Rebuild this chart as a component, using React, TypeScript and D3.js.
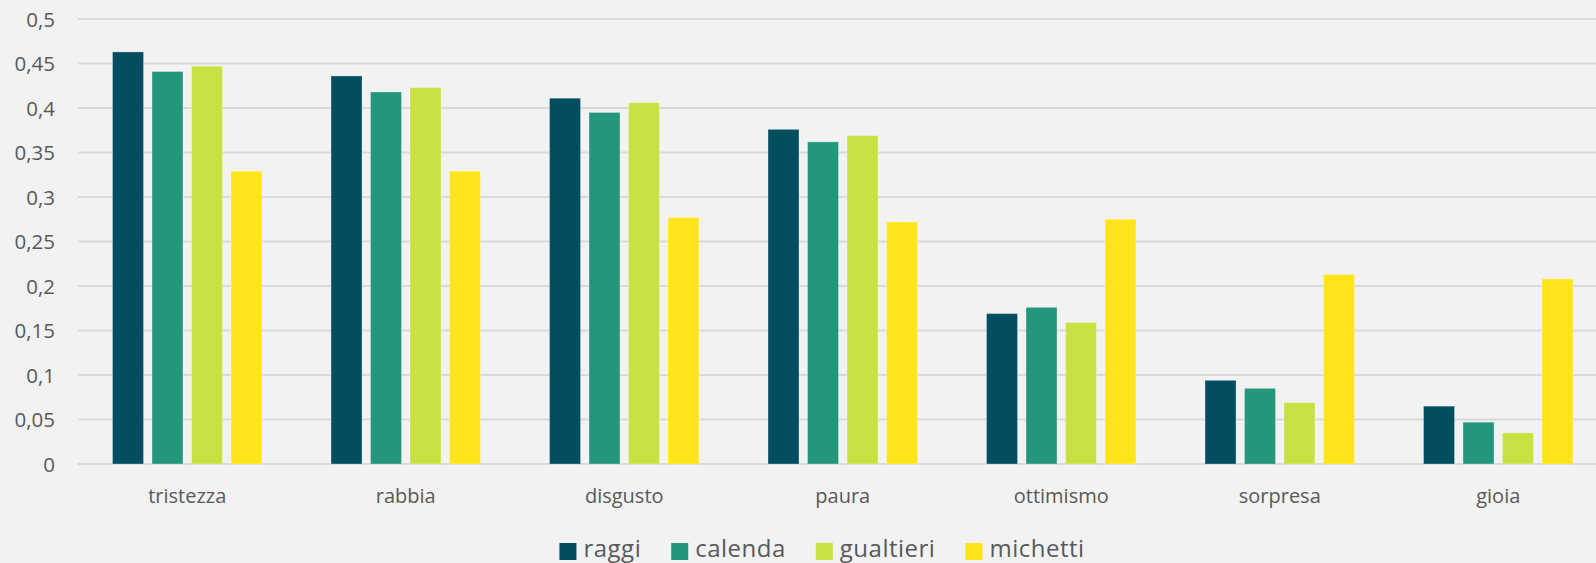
import { useEffect, useRef } from "react";
import * as d3 from "d3";

const categories = ["tristezza", "rabbia", "disgusto", "paura", "ottimismo", "sorpresa", "gioia"];
const series = ["raggi", "calenda", "gualtieri", "michetti"];
const colors = ["#034d60", "#23967c", "#c6e242", "#fee41a"];
const raggi = [0.463, 0.436, 0.411, 0.376, 0.169, 0.094, 0.065];
const calenda = [0.441, 0.418, 0.395, 0.362, 0.176, 0.085, 0.047];
const gualtieri = [0.447, 0.423, 0.406, 0.369, 0.159, 0.069, 0.035];
const michetti = [0.329, 0.329, 0.277, 0.272, 0.275, 0.213, 0.208];
const yTicks = [0, 0.05, 0.1, 0.15, 0.2, 0.25, 0.3, 0.35, 0.4, 0.45, 0.5];

const values = [raggi, calenda, gualtieri, michetti];

/** Grouped column chart of emotion shares per candidate. */
export default function App() {
  const ref = useRef<SVGSVGElement>(null);

  useEffect(() => {
    const el = ref.current;
    if (!el) return;
    const W = 1596, H = 563;
    const M = { top: 19, left: 78, right: 1607.5, bottom: 464 };
    const font = "'Open Sans', sans-serif";
    const txt = "#595959";
    const svg = d3.select(el).attr("width", W).attr("height", H).attr("viewBox", `0 0 ${W} ${H}`);
    svg.selectAll("*").remove();

    svg.append("rect").attr("width", W).attr("height", H).attr("fill", "#f2f2f2");

    const y = d3.scaleLinear().domain([0, 0.5]).range([M.bottom, M.top]);
    const x = d3.scaleBand<string>().domain(categories).range([M.left, M.right]).paddingInner(0.316).paddingOuter(0.158);
    const xs = d3.scaleBand<string>().domain(series).range([0, x.bandwidth()]).paddingInner(0.215).paddingOuter(0);

    // gridlines
    svg.append("g").selectAll("line").data(yTicks).join("line")
      .attr("x1", M.left).attr("x2", W).attr("y1", (d) => y(d)).attr("y2", (d) => y(d))
      .attr("stroke", "#d9d9d9").attr("stroke-width", 2);

    const fmt = (d: number) => String(d).replace(".", ",");
    svg.append("g").selectAll("text").data(yTicks).join("text")
      .attr("x", 55).attr("y", (d) => y(d) + 7.5).attr("text-anchor", "end")
      .attr("fill", txt).attr("font-size", 20.5).attr("font-family", font).text(fmt);

    const rows = categories.flatMap((c, i) => series.map((s, j) => ({ c, s, v: values[j][i], col: colors[j] })));
    svg.append("g").selectAll("rect").data(rows).join("rect")
      .attr("x", (d) => (x(d.c) ?? 0) + (xs(d.s) ?? 0)).attr("width", xs.bandwidth())
      .attr("y", (d) => y(d.v)).attr("height", (d) => y(0) - y(d.v))
      .attr("fill", (d) => d.col).attr("stroke", "rgba(255,255,255,0.3)").attr("stroke-width", 1);

    svg.append("g").selectAll("text").data(categories).join("text")
      .attr("x", (d) => (x(d) ?? 0) + x.bandwidth() / 2).attr("y", 503).attr("text-anchor", "middle")
      .attr("fill", txt).attr("font-size", 20).attr("font-family", font).text((d) => d);

    // legend, laid out from measured text widths and centred
    const lg = svg.append("g");
    const items = lg.selectAll("g").data(series).join("g");
    items.append("rect").attr("width", 17).attr("height", 17).attr("y", 543).attr("fill", (_, i) => colors[i]);
    items.append("text").attr("x", 24).attr("y", 557).attr("fill", txt)
      .attr("font-size", 24).attr("letter-spacing", 0.5).attr("font-family", font).text((d) => d);
    let cx = 0;
    items.each(function () {
      const g = d3.select(this);
      g.attr("transform", `translate(${cx},0)`);
      const w = (g.select("text").node() as SVGTextElement).getComputedTextLength();
      cx += 24 + w + 30;
    });
    const total = cx - 30;
    lg.attr("transform", `translate(${822 - total / 2},0)`);
  }, []);

  return (
    <svg ref={ref} style={{ position: "absolute", left: 0, top: 0, display: "block" }} role="img" aria-label="Emozioni per candidato" />
  );
}
